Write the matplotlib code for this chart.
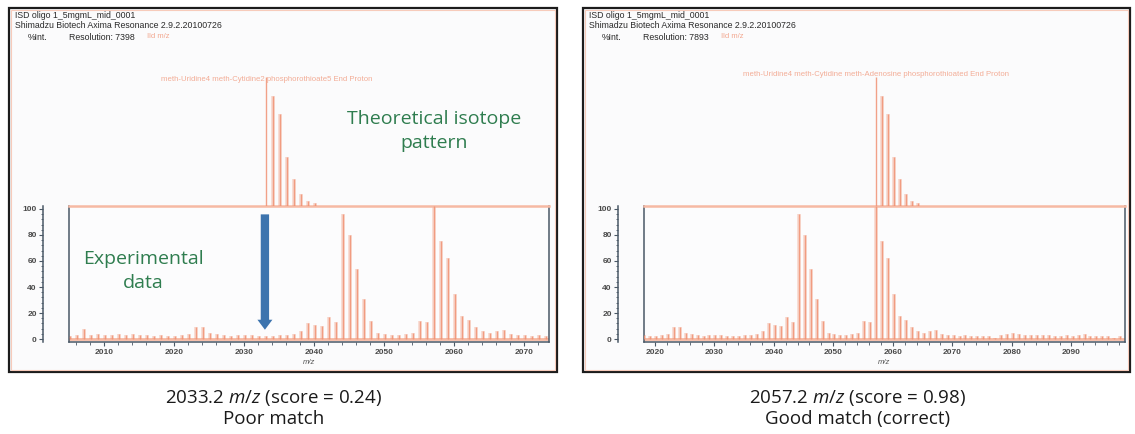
import matplotlib
matplotlib.use("Agg")
import matplotlib.pyplot as plt
from matplotlib.patches import Rectangle
from matplotlib.ticker import MultipleLocator

# ---------------- data ----------------
exp_mz = [2005.2 + i for i in range(95)]
exp_int = [2, 3, 8, 3, 4, 3, 3, 4, 3, 4,      # 2005-2014
           3, 3, 2, 3, 2, 2, 3, 4, 9, 9,      # 2015-2024
           5, 4, 3, 2, 3, 3, 3, 2, 2, 2,      # 2025-2034
           3, 3, 4, 6, 12, 11, 10, 17, 13, 96,  # 2035-2044
           80, 54, 31, 14, 5, 4, 3, 3, 4, 5,  # 2045-2054
           14, 13, 102, 75, 62, 35, 18, 15, 9, 6,  # 2055-2064
           5, 6, 7, 4, 3, 3, 2, 3, 2, 2,      # 2065-2074
           2, 2, 1, 3, 4, 5, 4, 3, 3, 3,      # 2075-2084
           3, 3, 2, 2, 3, 2, 3, 4, 2, 2,      # 2085-2094
           2, 2, 1, 2, 2]                     # 2095-2099

theo_int = [100, 85, 71, 38, 21, 9, 4, 2]
theo_start = [2033.2, 2057.2]
xlims = [(2005.0, 2073.6), (2018.2, 2099.0)]
xticks = [[2010, 2020, 2030, 2040, 2050, 2060, 2070],
          [2020, 2030, 2040, 2050, 2060, 2070, 2080, 2090]]
yticks = [0, 20, 40, 60, 80, 100]
resolutions = ["7398", "7893"]
theo_labels = ["meth-Uridine4 meth-Cytidine2 phosphorothioate5 End Proton",
               "meth-Uridine4 meth-Cytidine meth-Adenosine phosphorothioated End Proton"]
captions = [("2033.2", "0.24", "Poor match"),
            ("2057.2", "0.98", "Good match (correct)")]

# ---------------- layout ----------------
W, H = 1135, 434
fig = plt.figure(figsize=(W / 100, H / 100), dpi=100)
fig.patch.set_facecolor("white")

plt.rcParams['mathtext.fontset'] = 'custom'
plt.rcParams['mathtext.it'] = 'Open Sans:italic'
plt.rcParams['mathtext.rm'] = 'Open Sans'


def rect(x0, y0, x1, y1):
    return [x0 / W, 1 - y1 / H, (x1 - x0) / W, (y1 - y0) / H]


def fx(x):
    return x / W


def fy(y):
    return 1 - y / H


SAL = "#f09274"
SAL_L = "#f6b9a3"
DARK = "#4a5866"
GREEN = "#2f7d4f"
HDR = "#2a2a2a"

panels = [dict(frame=(9, 8, 557, 372), plot=(69, 206, 549, 342), theo_top=40,
               lab_y=98, cap_x=274),
          dict(frame=(583, 8, 1130, 372), plot=(644, 206, 1125, 342), theo_top=40,
               lab_y=102, cap_x=858)]

for k, p in enumerate(panels):
    x0, y0, x1, y1 = p["frame"]
    fig.add_artist(Rectangle((fx(x0), fy(y1)), (x1 - x0) / W, (y1 - y0) / H,
                             transform=fig.transFigure, facecolor="#fbfbfc",
                             edgecolor="#1c1c1c", lw=1.6, zorder=0))
    fig.add_artist(Rectangle((fx(x0 + 2), fy(y1 - 2)), (x1 - x0 - 4) / W, (y1 - y0 - 4) / H,
                             transform=fig.transFigure, facecolor="none",
                             edgecolor="#f7cbbb", lw=0.8, zorder=0.5))

    # header text
    hx = x0 + 6
    fig.text(fx(hx), fy(16), "ISD oligo 1_5mgmL_mid_0001", fontsize=6.3,
             family="Liberation Sans", color=HDR, va="center", ha="left")
    fig.text(fx(hx), fy(26), "Shimadzu Biotech Axima Resonance 2.9.2.20100726", fontsize=6.3,
             family="Liberation Sans", color=HDR, va="center", ha="left")
    fig.text(fx(hx + 13), fy(37), "%Int.", fontsize=6.3,
             family="Liberation Sans", color=HDR, va="center", ha="left")
    fig.text(fx(hx + 54), fy(37), "Resolution: " + resolutions[k], fontsize=6.3,
             family="Liberation Sans", color=HDR, va="center", ha="left")
    fig.text(fx(hx + 132), fy(37), "Ild m/z", fontsize=5.5,
             family="Liberation Sans", color=SAL, va="center", ha="left", alpha=0.8)

    px0, py0, px1, py1 = p["plot"]
    # experimental axes
    ax = fig.add_axes(rect(px0, py0, px1, py1))
    ax.set_facecolor("#fcfcfd")
    ax.set_xlim(*xlims[k])
    ax.set_ylim(-2.3, 102.3)
    sel = [(m, v) for m, v in zip(exp_mz, exp_int) if xlims[k][0] <= m <= xlims[k][1]]
    ms = [s[0] for s in sel]
    vs = [s[1] for s in sel]
    ax.axhline(0, color=SAL_L, lw=2.0, zorder=1)
    ax.vlines(ms, 0, vs, color=SAL, lw=2.6, alpha=0.35, zorder=2)
    ax.vlines(ms, 0, vs, color=SAL, lw=1.0, alpha=0.85, zorder=3)
    for s in ["left", "right", "bottom"]:
        ax.spines[s].set_color(DARK)
        ax.spines[s].set_linewidth(1.1)
    ax.spines["top"].set_color(SAL_L)
    ax.spines["top"].set_linewidth(1.8)
    ax.set_yticks([])
    ax.set_xticks(xticks[k])
    ax.xaxis.set_minor_locator(MultipleLocator(2))
    ax.tick_params(axis="x", which="major", length=3, width=0.8, color=DARK,
                   labelsize=6, labelcolor="#4a4a4a", pad=2)
    ax.tick_params(axis="x", which="minor", length=1.8, width=0.6, color=DARK)
    for lab in ax.get_xticklabels():
        lab.set_fontfamily("Liberation Sans")
        lab.set_fontweight("bold")
    ax.set_xlabel("m/z", fontsize=5.5, style="italic", color="#555555",
                  family="Liberation Sans", labelpad=2)

    sec = ax.secondary_yaxis(-26 / (px1 - px0))
    sec.set_yticks(yticks)
    sec.yaxis.set_minor_locator(MultipleLocator(4))
    sec.spines["left"].set_color(DARK)
    sec.spines["left"].set_linewidth(1.1)
    sec.tick_params(axis="y", which="major", length=3, width=0.8, color=DARK,
                    labelsize=6, labelcolor="#4a4a4a", pad=1.5)
    sec.tick_params(axis="y", which="minor", length=1.5, width=0.6, color=DARK)
    for lab in sec.get_yticklabels():
        lab.set_fontfamily("Liberation Sans")
        lab.set_fontweight("bold")

    # theoretical axes
    tt = p["theo_top"]
    axt = fig.add_axes(rect(px0, tt, px1, py0))
    axt.set_xlim(*xlims[k])
    axt.set_ylim(0, (py0 - tt) / 1.29)
    axt.axis("off")
    axt.patch.set_alpha(0)
    tm = [theo_start[k] + i for i in range(len(theo_int))]
    axt.vlines(tm[1:], 0, theo_int[1:], color=SAL, lw=2.6, alpha=0.35)
    axt.vlines(tm, 0, theo_int, color=SAL, lw=1.0, alpha=0.85)
    axt.text(theo_start[k], p["lab_y"], theo_labels[k], fontsize=5.6,
             family="Liberation Sans", color=SAL, alpha=0.75, ha="center", va="center")

    # captions
    cx = p["cap_x"]
    num, score, verdict = captions[k]
    fig.text(fx(cx), fy(398), num + r" $\mathit{m/z}$ (score = " + score + ")",
             fontsize=13.5, family="Open Sans", color="#1a1a1a", ha="center", va="center")
    fig.text(fx(cx), fy(419), verdict, fontsize=13.5, family="Open Sans",
             color="#1a1a1a", ha="center", va="center")

    if k == 0:
        ax.annotate("", xy=(2033.0, 5), xytext=(2033.0, 98),
                    arrowprops=dict(arrowstyle="simple,head_width=0.9,head_length=0.6,tail_width=0.5",
                                    mutation_scale=12, color="#3d74ae", lw=0),
                    zorder=5)

fig.text(fx(434), fy(131), "Theoretical isotope\npattern", fontsize=14,
         family="Open Sans", color=GREEN, ha="center", va="center", linespacing=1.45)
fig.text(fx(143), fy(271), "Experimental\ndata", fontsize=14,
         family="Open Sans", color=GREEN, ha="center", va="center", linespacing=1.45)

fig.savefig("out.png", dpi=100)
